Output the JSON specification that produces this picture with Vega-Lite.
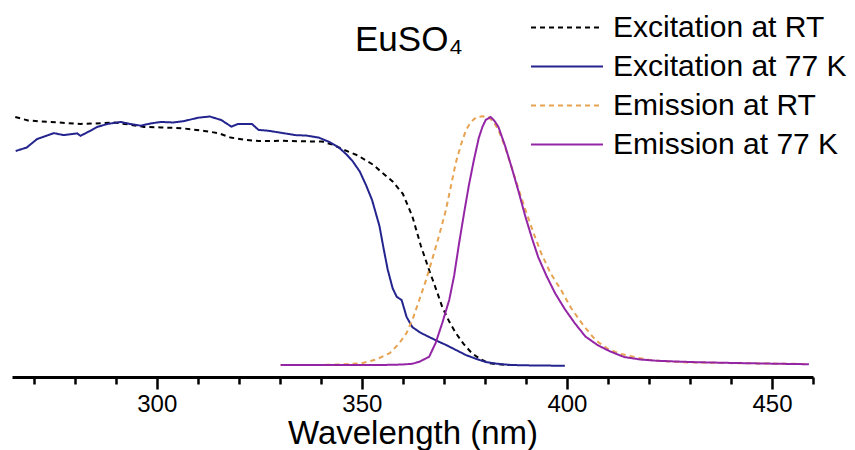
{
  "$schema": "https://vega.github.io/schema/vega-lite/v6.json",
  "width": 801,
  "height": 377,
  "autosize": "none",
  "padding": {"left": 12, "top": 0, "right": 42, "bottom": 73},
  "background": "white",
  "config": {"view": {"stroke": null}, "font": "Liberation Sans"},
  "title": {"text": "EuSO₄", "anchor": "start", "frame": "group", "dx": 343, "dy": 31, "offset": -55, "baseline": "alphabetic", "fontSize": 35, "fontWeight": "normal", "font": "Liberation Sans", "color": "black"},
  "data": {"values": [
    {"s": "Excitation at RT", "w": 265.5, "v": 1.0},
    {"s": "Excitation at RT", "w": 268.6, "v": 0.986},
    {"s": "Excitation at RT", "w": 272, "v": 0.982},
    {"s": "Excitation at RT", "w": 276, "v": 0.978},
    {"s": "Excitation at RT", "w": 281.4, "v": 0.972},
    {"s": "Excitation at RT", "w": 285, "v": 0.974},
    {"s": "Excitation at RT", "w": 289.6, "v": 0.978},
    {"s": "Excitation at RT", "w": 293, "v": 0.97},
    {"s": "Excitation at RT", "w": 296.9, "v": 0.96},
    {"s": "Excitation at RT", "w": 301, "v": 0.958},
    {"s": "Excitation at RT", "w": 306, "v": 0.955},
    {"s": "Excitation at RT", "w": 311.6, "v": 0.944},
    {"s": "Excitation at RT", "w": 315, "v": 0.935},
    {"s": "Excitation at RT", "w": 318, "v": 0.917},
    {"s": "Excitation at RT", "w": 322, "v": 0.907},
    {"s": "Excitation at RT", "w": 324.9, "v": 0.903},
    {"s": "Excitation at RT", "w": 330.2, "v": 0.904},
    {"s": "Excitation at RT", "w": 335, "v": 0.902},
    {"s": "Excitation at RT", "w": 340.3, "v": 0.901},
    {"s": "Excitation at RT", "w": 343, "v": 0.888},
    {"s": "Excitation at RT", "w": 345.4, "v": 0.869},
    {"s": "Excitation at RT", "w": 349, "v": 0.845},
    {"s": "Excitation at RT", "w": 352.7, "v": 0.808},
    {"s": "Excitation at RT", "w": 355, "v": 0.775},
    {"s": "Excitation at RT", "w": 357.5, "v": 0.74},
    {"s": "Excitation at RT", "w": 360, "v": 0.69},
    {"s": "Excitation at RT", "w": 362.3, "v": 0.6},
    {"s": "Excitation at RT", "w": 364.4, "v": 0.48},
    {"s": "Excitation at RT", "w": 366.4, "v": 0.383},
    {"s": "Excitation at RT", "w": 368, "v": 0.31},
    {"s": "Excitation at RT", "w": 369.6, "v": 0.234},
    {"s": "Excitation at RT", "w": 371.3, "v": 0.175},
    {"s": "Excitation at RT", "w": 372.9, "v": 0.129},
    {"s": "Excitation at RT", "w": 374.8, "v": 0.085},
    {"s": "Excitation at RT", "w": 376.8, "v": 0.048},
    {"s": "Excitation at RT", "w": 378.8, "v": 0.025},
    {"s": "Excitation at RT", "w": 380.9, "v": 0.008},
    {"s": "Excitation at RT", "w": 383, "v": 0.003},
    {"s": "Excitation at RT", "w": 386, "v": 0.0},
    {"s": "Excitation at 77 K", "w": 265.6, "v": 0.863},
    {"s": "Excitation at 77 K", "w": 268.3, "v": 0.877},
    {"s": "Excitation at 77 K", "w": 270.8, "v": 0.911},
    {"s": "Excitation at 77 K", "w": 274.9, "v": 0.935},
    {"s": "Excitation at 77 K", "w": 277.3, "v": 0.927},
    {"s": "Excitation at 77 K", "w": 280.6, "v": 0.934},
    {"s": "Excitation at 77 K", "w": 281.4, "v": 0.924},
    {"s": "Excitation at 77 K", "w": 283.5, "v": 0.942},
    {"s": "Excitation at 77 K", "w": 285.5, "v": 0.96},
    {"s": "Excitation at 77 K", "w": 288, "v": 0.972},
    {"s": "Excitation at 77 K", "w": 291.2, "v": 0.98},
    {"s": "Excitation at 77 K", "w": 293.5, "v": 0.972},
    {"s": "Excitation at 77 K", "w": 296.1, "v": 0.965},
    {"s": "Excitation at 77 K", "w": 298.5, "v": 0.974},
    {"s": "Excitation at 77 K", "w": 301, "v": 0.98},
    {"s": "Excitation at 77 K", "w": 304, "v": 0.978},
    {"s": "Excitation at 77 K", "w": 306.8, "v": 0.984},
    {"s": "Excitation at 77 K", "w": 310, "v": 0.997},
    {"s": "Excitation at 77 K", "w": 312.9, "v": 1.002},
    {"s": "Excitation at 77 K", "w": 315.7, "v": 0.988},
    {"s": "Excitation at 77 K", "w": 318.2, "v": 0.961},
    {"s": "Excitation at 77 K", "w": 319.8, "v": 0.972},
    {"s": "Excitation at 77 K", "w": 323.2, "v": 0.972},
    {"s": "Excitation at 77 K", "w": 324.8, "v": 0.948},
    {"s": "Excitation at 77 K", "w": 327, "v": 0.945},
    {"s": "Excitation at 77 K", "w": 329.7, "v": 0.938},
    {"s": "Excitation at 77 K", "w": 333.8, "v": 0.927},
    {"s": "Excitation at 77 K", "w": 336.5, "v": 0.925},
    {"s": "Excitation at 77 K", "w": 339.5, "v": 0.917},
    {"s": "Excitation at 77 K", "w": 342, "v": 0.9},
    {"s": "Excitation at 77 K", "w": 344.4, "v": 0.877},
    {"s": "Excitation at 77 K", "w": 346.2, "v": 0.85},
    {"s": "Excitation at 77 K", "w": 347.7, "v": 0.823},
    {"s": "Excitation at 77 K", "w": 349.5, "v": 0.78},
    {"s": "Excitation at 77 K", "w": 351, "v": 0.726},
    {"s": "Excitation at 77 K", "w": 352.5, "v": 0.665},
    {"s": "Excitation at 77 K", "w": 354.3, "v": 0.56},
    {"s": "Excitation at 77 K", "w": 355.3, "v": 0.47},
    {"s": "Excitation at 77 K", "w": 356.3, "v": 0.385},
    {"s": "Excitation at 77 K", "w": 357.5, "v": 0.31},
    {"s": "Excitation at 77 K", "w": 358.5, "v": 0.275},
    {"s": "Excitation at 77 K", "w": 359.7, "v": 0.262},
    {"s": "Excitation at 77 K", "w": 360.9, "v": 0.194},
    {"s": "Excitation at 77 K", "w": 362.3, "v": 0.153},
    {"s": "Excitation at 77 K", "w": 364.3, "v": 0.13},
    {"s": "Excitation at 77 K", "w": 366.4, "v": 0.113},
    {"s": "Excitation at 77 K", "w": 368.5, "v": 0.096},
    {"s": "Excitation at 77 K", "w": 370.5, "v": 0.081},
    {"s": "Excitation at 77 K", "w": 373, "v": 0.06},
    {"s": "Excitation at 77 K", "w": 375.4, "v": 0.04},
    {"s": "Excitation at 77 K", "w": 378, "v": 0.024},
    {"s": "Excitation at 77 K", "w": 380.2, "v": 0.012},
    {"s": "Excitation at 77 K", "w": 383, "v": 0.005},
    {"s": "Excitation at 77 K", "w": 386.5, "v": 0.0},
    {"s": "Excitation at 77 K", "w": 392, "v": -0.002},
    {"s": "Excitation at 77 K", "w": 399.5, "v": -0.003},
    {"s": "Emission at RT", "w": 330.2, "v": 0},
    {"s": "Emission at RT", "w": 340, "v": 0},
    {"s": "Emission at RT", "w": 346, "v": 0.003},
    {"s": "Emission at RT", "w": 350.2, "v": 0.008},
    {"s": "Emission at RT", "w": 353.5, "v": 0.022},
    {"s": "Emission at RT", "w": 356.8, "v": 0.048},
    {"s": "Emission at RT", "w": 359, "v": 0.085},
    {"s": "Emission at RT", "w": 360.9, "v": 0.129},
    {"s": "Emission at RT", "w": 362.5, "v": 0.19},
    {"s": "Emission at RT", "w": 364, "v": 0.262},
    {"s": "Emission at RT", "w": 365.6, "v": 0.34},
    {"s": "Emission at RT", "w": 367.1, "v": 0.423},
    {"s": "Emission at RT", "w": 368.8, "v": 0.52},
    {"s": "Emission at RT", "w": 370.5, "v": 0.625},
    {"s": "Emission at RT", "w": 371.7, "v": 0.72},
    {"s": "Emission at RT", "w": 372.9, "v": 0.815},
    {"s": "Emission at RT", "w": 374.2, "v": 0.89},
    {"s": "Emission at RT", "w": 375.4, "v": 0.948},
    {"s": "Emission at RT", "w": 376.6, "v": 0.98},
    {"s": "Emission at RT", "w": 377.8, "v": 0.998},
    {"s": "Emission at RT", "w": 379.4, "v": 1.003},
    {"s": "Emission at RT", "w": 380.9, "v": 1.0},
    {"s": "Emission at RT", "w": 382.1, "v": 0.98},
    {"s": "Emission at RT", "w": 383.3, "v": 0.948},
    {"s": "Emission at RT", "w": 384.9, "v": 0.88},
    {"s": "Emission at RT", "w": 386.5, "v": 0.798},
    {"s": "Emission at RT", "w": 388.2, "v": 0.71},
    {"s": "Emission at RT", "w": 389.9, "v": 0.625},
    {"s": "Emission at RT", "w": 391.8, "v": 0.535},
    {"s": "Emission at RT", "w": 393.7, "v": 0.452},
    {"s": "Emission at RT", "w": 396, "v": 0.37},
    {"s": "Emission at RT", "w": 398.6, "v": 0.302},
    {"s": "Emission at RT", "w": 401, "v": 0.23},
    {"s": "Emission at RT", "w": 404, "v": 0.16},
    {"s": "Emission at RT", "w": 407, "v": 0.1},
    {"s": "Emission at RT", "w": 410, "v": 0.065},
    {"s": "Emission at RT", "w": 413, "v": 0.045},
    {"s": "Emission at RT", "w": 417, "v": 0.03},
    {"s": "Emission at RT", "w": 421, "v": 0.018},
    {"s": "Emission at RT", "w": 428, "v": 0.011},
    {"s": "Emission at RT", "w": 438, "v": 0.008},
    {"s": "Emission at RT", "w": 448, "v": 0.006},
    {"s": "Emission at RT", "w": 459, "v": 0.004},
    {"s": "Emission at 77 K", "w": 330.2, "v": 0},
    {"s": "Emission at 77 K", "w": 345, "v": 0},
    {"s": "Emission at 77 K", "w": 355, "v": 0},
    {"s": "Emission at 77 K", "w": 360, "v": 0.002},
    {"s": "Emission at 77 K", "w": 362.3, "v": 0.005},
    {"s": "Emission at 77 K", "w": 364, "v": 0.013},
    {"s": "Emission at 77 K", "w": 366.4, "v": 0.033},
    {"s": "Emission at 77 K", "w": 368, "v": 0.089},
    {"s": "Emission at 77 K", "w": 369.6, "v": 0.169},
    {"s": "Emission at 77 K", "w": 371.3, "v": 0.262},
    {"s": "Emission at 77 K", "w": 372.5, "v": 0.36},
    {"s": "Emission at 77 K", "w": 373.7, "v": 0.49},
    {"s": "Emission at 77 K", "w": 375, "v": 0.62},
    {"s": "Emission at 77 K", "w": 376.1, "v": 0.725},
    {"s": "Emission at 77 K", "w": 377.3, "v": 0.825},
    {"s": "Emission at 77 K", "w": 378.5, "v": 0.915},
    {"s": "Emission at 77 K", "w": 379.4, "v": 0.96},
    {"s": "Emission at 77 K", "w": 380.2, "v": 0.988},
    {"s": "Emission at 77 K", "w": 381.4, "v": 1.0},
    {"s": "Emission at 77 K", "w": 382.3, "v": 0.985},
    {"s": "Emission at 77 K", "w": 383.3, "v": 0.96},
    {"s": "Emission at 77 K", "w": 384.9, "v": 0.885},
    {"s": "Emission at 77 K", "w": 386.5, "v": 0.798},
    {"s": "Emission at 77 K", "w": 388.2, "v": 0.7},
    {"s": "Emission at 77 K", "w": 389.9, "v": 0.597},
    {"s": "Emission at 77 K", "w": 391.5, "v": 0.51},
    {"s": "Emission at 77 K", "w": 393, "v": 0.435},
    {"s": "Emission at 77 K", "w": 395, "v": 0.36},
    {"s": "Emission at 77 K", "w": 397.1, "v": 0.29},
    {"s": "Emission at 77 K", "w": 399.5, "v": 0.225},
    {"s": "Emission at 77 K", "w": 401.9, "v": 0.169},
    {"s": "Emission at 77 K", "w": 404.5, "v": 0.115},
    {"s": "Emission at 77 K", "w": 407.5, "v": 0.08},
    {"s": "Emission at 77 K", "w": 410.5, "v": 0.055},
    {"s": "Emission at 77 K", "w": 414, "v": 0.032},
    {"s": "Emission at 77 K", "w": 418, "v": 0.022},
    {"s": "Emission at 77 K", "w": 422, "v": 0.017},
    {"s": "Emission at 77 K", "w": 430, "v": 0.012},
    {"s": "Emission at 77 K", "w": 438, "v": 0.009},
    {"s": "Emission at 77 K", "w": 448, "v": 0.006},
    {"s": "Emission at 77 K", "w": 459, "v": 0.003}
  ]},
  "mark": {"type": "line", "strokeWidth": 2},
  "encoding": {
    "x": {
      "field": "w", "type": "quantitative",
      "scale": {"domain": [264.7, 460], "nice": false, "zero": false},
      "axis": {
        "values": [270, 280, 290, 300, 310, 320, 330, 340, 350, 360, 370, 380, 390, 400, 410, 420, 430, 440, 450, 460],
        "labelExpr": "datum.value % 50 === 0 ? datum.label : ''",
        "tickSize": {"condition": {"test": "datum.value % 50 === 0", "value": 12}, "value": 7},
        "tickWidth": 2.5, "tickColor": "black",
        "domainColor": "black", "domainWidth": 3,
        "labelFontSize": 24, "labelColor": "black", "labelPadding": 3, "labelFont": "Liberation Sans",
        "labelOverlap": false, "labelFlush": false,
        "title": "Wavelength (nm)", "titleFontSize": 33, "titleFontWeight": "normal", "titleColor": "black", "titleFont": "Liberation Sans", "titlePadding": 1,
        "grid": false
      }
    },
    "y": {
      "field": "v", "type": "quantitative",
      "scale": {"domain": [-0.0484, 1.4718], "nice": false, "zero": false},
      "axis": null
    },
    "color": {
      "field": "s", "type": "nominal",
      "scale": {"domain": ["Excitation at RT", "Excitation at 77 K", "Emission at RT", "Emission at 77 K"], "range": ["#000000", "#24248f", "#e6a351", "#9426a6"]},
      "legend": {"title": null, "orient": "none", "legendX": 518, "legendY": 8, "symbolSize": 5184, "symbolStrokeWidth": 2, "symbolType": "stroke", "labelFontSize": 30, "labelFont": "Liberation Sans", "labelColor": "black", "labelOffset": 9, "clipHeight": 39, "rowPadding": 0, "padding": 0, "labelLimit": 400}
    },
    "strokeDash": {
      "field": "s", "type": "nominal",
      "scale": {"domain": ["Excitation at RT", "Excitation at 77 K", "Emission at RT", "Emission at 77 K"], "range": [[5, 4], [1, 0], [5, 4], [1, 0]]},
      "legend": {"title": null, "orient": "none", "legendX": 518, "legendY": 8, "symbolSize": 5184, "symbolStrokeWidth": 2, "symbolType": "stroke", "labelFontSize": 30, "labelFont": "Liberation Sans", "labelColor": "black", "labelOffset": 9, "clipHeight": 39, "rowPadding": 0, "padding": 0, "labelLimit": 400}
    }
  }
}
